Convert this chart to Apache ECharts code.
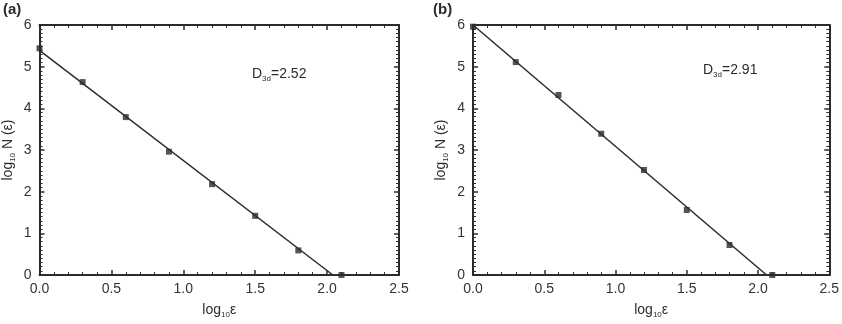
<html>
<head>
<meta charset="utf-8">
<title>ECharts</title>
</head>
<body style="margin:0">
<div id="main" style="width:842px;height:324px;"></div>
<script src="https://cdn.jsdelivr.net/npm/echarts@6/dist/echarts.min.js"></script>
<script>
// log10(eps) box sizes, same for both panels
var xs = [0, 0.3, 0.6, 0.9, 1.2, 1.5, 1.8, 2.1];
// log10 N(eps)
var ptsA = [5.44, 4.63, 3.79, 2.96, 2.18, 1.42, 0.59, 0.0];
var ptsB = [5.96, 5.11, 4.32, 3.39, 2.52, 1.56, 0.72, 0.0];
// fitted lines: two end points each
var fitA = [[0, 5.39], [2.04, 0]];
var fitB = [[0, 6.0], [2.06, 0]];
var panelTags = ['(a)', '(b)'];
var slopeText = ['2.52', '2.91'];

var chart = echarts.init(document.getElementById('main'));
var ink = '#2b2b2b';
var font = 'Liberation Sans, Arial, sans-serif';

function pairs(x, y) {
	var out = [];
	for (var i = 0; i < x.length; i++) out.push([x[i], y[i]]);
	return out;
}

function xAx(grid, bottom) {
	return {
		gridIndex: grid, type: 'value', min: 0, max: 2.5, interval: 0.5,
		position: bottom ? 'bottom' : 'top',
		axisLine: {show: true, onZero: false, lineStyle: {color: ink, width: 2}},
		axisTick: {show: true, inside: true, length: 5, lineStyle: {color: ink, width: 1.5}},
		minorTick: {show: true, splitNumber: 5, length: 3, lineStyle: {color: ink, width: 1}},
		axisLabel: {show: bottom, color: '#333', fontSize: 14, fontFamily: font, margin: 7,
			formatter: function (v) { return v.toFixed(1); }},
		splitLine: {show: false},
		name: bottom ? '{a|log}{s|10}{a|ε}' : '',
		nameLocation: 'middle', nameGap: 27,
		nameTextStyle: {rich: {
			a: {fontSize: 14, color: ink, fontFamily: font},
			s: {fontSize: 8, color: ink, fontFamily: font, verticalAlign: 'bottom', padding: [9, 0, 0, 0]}
		}}
	};
}

function yAx(grid, left) {
	return {
		gridIndex: grid, type: 'value', min: 0, max: 6, interval: 1,
		position: left ? 'left' : 'right',
		axisLine: {show: true, onZero: false, lineStyle: {color: ink, width: 2}},
		axisTick: {show: true, inside: true, length: 5, lineStyle: {color: ink, width: 1.5}},
		minorTick: {show: true, splitNumber: 10, length: 3, lineStyle: {color: ink, width: 1}},
		axisLabel: {show: left, color: '#333', fontSize: 14, fontFamily: font, margin: 8},
		splitLine: {show: false},
		name: left ? '{a|log}{s|10}{a| N (ε)}' : '',
		nameLocation: 'middle', nameGap: 23, nameRotate: 90,
		nameTextStyle: {rich: {
			a: {fontSize: 14, color: ink, fontFamily: font},
			s: {fontSize: 8, color: ink, fontFamily: font, verticalAlign: 'bottom', padding: [9, 0, 0, 0]}
		}}
	};
}

option = {
	animation: false,
	backgroundColor: '#fff',
	grid: [
		{left: 38, top: 25, width: 361, height: 253},
		{left: 473, top: 25, width: 359, height: 253}
	],
	xAxis: [xAx(0, true), xAx(0, false), xAx(1, true), xAx(1, false)],
	yAxis: [yAx(0, true), yAx(0, false), yAx(1, true), yAx(1, false)],
	series: [
		{type: 'line', xAxisIndex: 0, yAxisIndex: 0, data: fitA, symbol: 'none',
			lineStyle: {color: ink, width: 1.5}},
		{type: 'scatter', xAxisIndex: 0, yAxisIndex: 0, data: pairs(xs, ptsA),
			symbol: 'rect', symbolSize: 6, itemStyle: {color: ink}},
		{type: 'line', xAxisIndex: 2, yAxisIndex: 2, data: fitB, symbol: 'none',
			lineStyle: {color: ink, width: 1.5}},
		{type: 'scatter', xAxisIndex: 2, yAxisIndex: 2, data: pairs(xs, ptsB),
			symbol: 'rect', symbolSize: 6, itemStyle: {color: ink}}
	],
	graphic: [
		{type: 'text', left: 3, top: 2, style: {text: panelTags[0], font: 'bold 15px ' + font, fill: ink}},
		{type: 'text', left: 433, top: 2, style: {text: panelTags[1], font: 'bold 15px ' + font, fill: ink}},
		{type: 'text', left: 252, top: 67, style: {
			text: '{a|D}{s|3d}{a|=' + slopeText[0] + '}',
			rich: {a: {fontSize: 14, fill: ink, fontFamily: font},
				s: {fontSize: 8, fill: ink, fontFamily: font, verticalAlign: 'bottom', padding: [9, 0, 0, 0]}}
		}},
		{type: 'text', left: 703, top: 63, style: {
			text: '{a|D}{s|3d}{a|=' + slopeText[1] + '}',
			rich: {a: {fontSize: 14, fill: ink, fontFamily: font},
				s: {fontSize: 8, fill: ink, fontFamily: font, verticalAlign: 'bottom', padding: [9, 0, 0, 0]}}
		}}
	]
};

chart.setOption(option);
</script>
</body>
</html>
